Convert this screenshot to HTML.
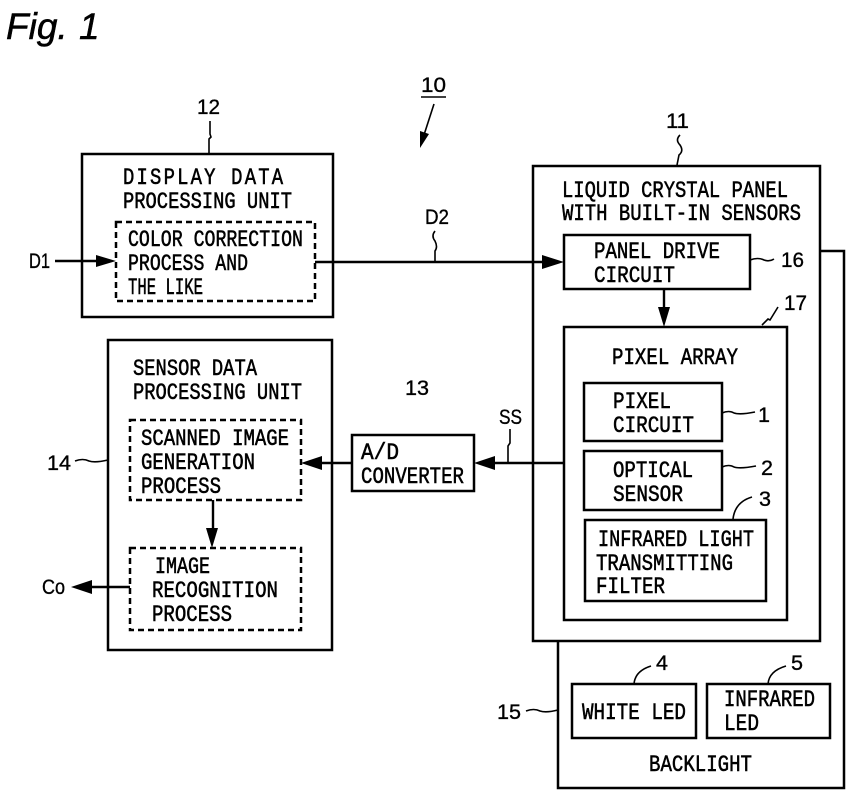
<!DOCTYPE html>
<html><head><meta charset="utf-8"><style>
html,body{margin:0;padding:0;background:#fff}
svg{display:block}
text{font-family:"Liberation Sans",sans-serif;font-size:21px;fill:#000;stroke:#000;stroke-width:.35}
text.m{font-family:"Liberation Mono",monospace;font-size:23px;stroke-width:.55}
.b{fill:none;stroke:#000;stroke-width:2.5}
.d{fill:none;stroke:#000;stroke-width:2.5;stroke-dasharray:6 4}
.l{fill:none;stroke:#000;stroke-width:1.6}
.c{fill:none;stroke:#000;stroke-width:2.4}
</style></head><body>
<svg width="850" height="801" viewBox="0 0 850 801" xmlns="http://www.w3.org/2000/svg">
<text x="6" y="39" style="font-size:37px;font-style:italic;stroke-width:.5">Fig.</text>
<text x="79" y="39" style="font-size:37px;font-style:italic;stroke-width:.5">1</text>

<!-- Backlight -->
<polyline class="b" points="820,251 844,251 844,788 558,788 558,641"/>
<!-- Panel -->
<rect class="b" x="533" y="166" width="287" height="475"/>
<rect class="b" x="564" y="235" width="186" height="54"/>
<rect class="b" x="564" y="327" width="223" height="293"/>
<rect class="b" x="584" y="383" width="138" height="58"/>
<rect class="b" x="584" y="451" width="138" height="59"/>
<rect class="b" x="585" y="520" width="181" height="81"/>
<rect class="b" x="572" y="684" width="124" height="54"/>
<rect class="b" x="707" y="684" width="123" height="54"/>
<!-- Left blocks -->
<rect class="b" x="82" y="154" width="251" height="163"/>
<rect class="d" x="116" y="222" width="199" height="79"/>
<rect class="b" x="108" y="340" width="224" height="310"/>
<rect class="d" x="130" y="420" width="171" height="80"/>
<rect class="d" x="130" y="548" width="171" height="82"/>
<rect class="b" x="352" y="435" width="122" height="56"/>

<!-- Connectors -->
<line class="c" x1="55" y1="261" x2="100" y2="261"/><polygon points="116,261 96,255 96,267"/>
<line class="c" x1="315" y1="262" x2="545" y2="262"/><polygon points="564,262 542,255 542,269"/>
<line class="c" x1="664" y1="289" x2="664" y2="310"/><polygon points="664,327 658,307 670,307"/>
<line class="c" x1="564" y1="463" x2="490" y2="463"/><polygon points="474,463 495,456 495,470"/>
<line class="c" x1="352" y1="463" x2="318" y2="463"/><polygon points="301,463 322,456 322,470"/>
<line class="c" x1="213" y1="500" x2="213" y2="532"/><polygon points="212,548 206,528 218,528"/>
<line class="c" x1="130" y1="587" x2="88" y2="587"/><polygon points="71,587 92,580 92,594"/>

<!-- Leader ticks -->
<path class="l" d="M210 121 v13 l1 3 -2 2 v14"/>
<path class="l" d="M680 135 q-5 5 0 10 q4 6 -1 10 l-2 10"/>
<line class="l" x1="421" y1="97" x2="446" y2="97"/>
<line class="l" x1="434" y1="104" x2="423" y2="138"/><polygon points="420,148 420,131 429,134"/>
<path class="l" d="M435 231 q-4 5 0 10 q3 6 0 10 v11"/>
<path class="l" d="M510 429 v14 l-2 3 v17"/>
<path class="l" d="M750 260 q8 -3 14 0 q5 2 10 -1"/>
<path class="l" d="M762 325 l6 -6 l2 1 l8 -13"/>
<path class="l" d="M722 413 q7 -3 12 0 q6 2 21 -1"/>
<path class="l" d="M722 467 q7 -3 12 0 q6 2 22 -1"/>
<path class="l" d="M733 519 q2 -17 19 -22"/>
<path class="l" d="M634 684 q1 -13 17 -18"/>
<path class="l" d="M768 684 q1 -13 18 -18"/>
<path class="l" d="M526 711 q8 -3 14 0 q6 2 18 -1"/>
<path class="l" d="M75 461 q8 -3 14 0 q6 2 19 -1"/>

<!-- Number labels -->
<text x="421" y="92" textLength="25" lengthAdjust="spacingAndGlyphs">10</text>
<text x="197" y="114" textLength="23" lengthAdjust="spacingAndGlyphs">12</text>
<text x="666" y="128" textLength="23" lengthAdjust="spacingAndGlyphs">11</text>
<text x="405" y="395" textLength="24" lengthAdjust="spacingAndGlyphs">13</text>
<text x="47" y="470" textLength="24" lengthAdjust="spacingAndGlyphs">14</text>
<text x="497" y="719" textLength="24" lengthAdjust="spacingAndGlyphs">15</text>
<text x="781" y="267" textLength="23" lengthAdjust="spacingAndGlyphs">16</text>
<text x="784" y="310" textLength="23" lengthAdjust="spacingAndGlyphs">17</text>
<text x="758" y="422" textLength="12" lengthAdjust="spacingAndGlyphs">1</text>
<text x="761" y="475" textLength="12" lengthAdjust="spacingAndGlyphs">2</text>
<text x="759" y="506" textLength="12" lengthAdjust="spacingAndGlyphs">3</text>
<text x="656" y="670" textLength="12" lengthAdjust="spacingAndGlyphs">4</text>
<text x="791" y="670" textLength="12" lengthAdjust="spacingAndGlyphs">5</text>
<text x="29" y="268" textLength="21" lengthAdjust="spacingAndGlyphs">D1</text>
<text x="425" y="224" textLength="24" lengthAdjust="spacingAndGlyphs">D2</text>
<text x="499" y="424" textLength="23" lengthAdjust="spacingAndGlyphs">SS</text>
<text x="42" y="594" textLength="23" lengthAdjust="spacingAndGlyphs">Co</text>

<!-- Box labels -->
<text class="m" transform="translate(123,184) scale(.82,1)" letter-spacing="2.7">DISPLAY DATA</text>
<text class="m" x="123" y="208" textLength="169" lengthAdjust="spacingAndGlyphs">PROCESSING UNIT</text>
<text class="m" x="128" y="246" textLength="175" lengthAdjust="spacingAndGlyphs">COLOR CORRECTION</text>
<text class="m" x="128" y="270" textLength="120" lengthAdjust="spacingAndGlyphs">PROCESS AND</text>
<text class="m" x="128" y="294" textLength="75" lengthAdjust="spacingAndGlyphs">THE LIKE</text>

<text class="m" x="133" y="375" textLength="124" lengthAdjust="spacingAndGlyphs">SENSOR DATA</text>
<text class="m" x="133" y="399" textLength="169" lengthAdjust="spacingAndGlyphs">PROCESSING UNIT</text>
<text class="m" x="141" y="445" textLength="148" lengthAdjust="spacingAndGlyphs">SCANNED IMAGE</text>
<text class="m" x="141" y="469" textLength="114" lengthAdjust="spacingAndGlyphs">GENERATION</text>
<text class="m" x="141" y="493" textLength="80" lengthAdjust="spacingAndGlyphs">PROCESS</text>
<text class="m" x="155" y="573" textLength="55" lengthAdjust="spacingAndGlyphs">IMAGE</text>
<text class="m" x="152" y="597" textLength="126" lengthAdjust="spacingAndGlyphs">RECOGNITION</text>
<text class="m" x="152" y="621" textLength="80" lengthAdjust="spacingAndGlyphs">PROCESS</text>

<text class="m" x="361" y="459" textLength="38" lengthAdjust="spacingAndGlyphs">A/D</text>
<text class="m" x="361" y="483" textLength="103" lengthAdjust="spacingAndGlyphs">CONVERTER</text>

<text class="m" x="562" y="197" textLength="226" lengthAdjust="spacingAndGlyphs">LIQUID CRYSTAL PANEL</text>
<text class="m" x="562" y="220" textLength="239" lengthAdjust="spacingAndGlyphs">WITH BUILT-IN SENSORS</text>
<text class="m" x="594" y="258" textLength="126" lengthAdjust="spacingAndGlyphs">PANEL DRIVE</text>
<text class="m" x="594" y="282" textLength="81" lengthAdjust="spacingAndGlyphs">CIRCUIT</text>
<text class="m" x="612" y="364" textLength="126" lengthAdjust="spacingAndGlyphs">PIXEL ARRAY</text>
<text class="m" x="613" y="408" textLength="58" lengthAdjust="spacingAndGlyphs">PIXEL</text>
<text class="m" x="613" y="432" textLength="81" lengthAdjust="spacingAndGlyphs">CIRCUIT</text>
<text class="m" x="613" y="477" textLength="80" lengthAdjust="spacingAndGlyphs">OPTICAL</text>
<text class="m" x="613" y="501" textLength="70" lengthAdjust="spacingAndGlyphs">SENSOR</text>
<text class="m" x="598" y="546" textLength="156" lengthAdjust="spacingAndGlyphs">INFRARED LIGHT</text>
<text class="m" x="596" y="570" textLength="137" lengthAdjust="spacingAndGlyphs">TRANSMITTING</text>
<text class="m" x="596" y="593" textLength="69" lengthAdjust="spacingAndGlyphs">FILTER</text>

<text class="m" x="582" y="719" textLength="104" lengthAdjust="spacingAndGlyphs">WHITE LED</text>
<text class="m" x="724" y="706" textLength="91" lengthAdjust="spacingAndGlyphs">INFRARED</text>
<text class="m" x="724" y="730" textLength="35" lengthAdjust="spacingAndGlyphs">LED</text>
<text class="m" x="649" y="771" textLength="103" lengthAdjust="spacingAndGlyphs">BACKLIGHT</text>
</svg>
</body></html>
